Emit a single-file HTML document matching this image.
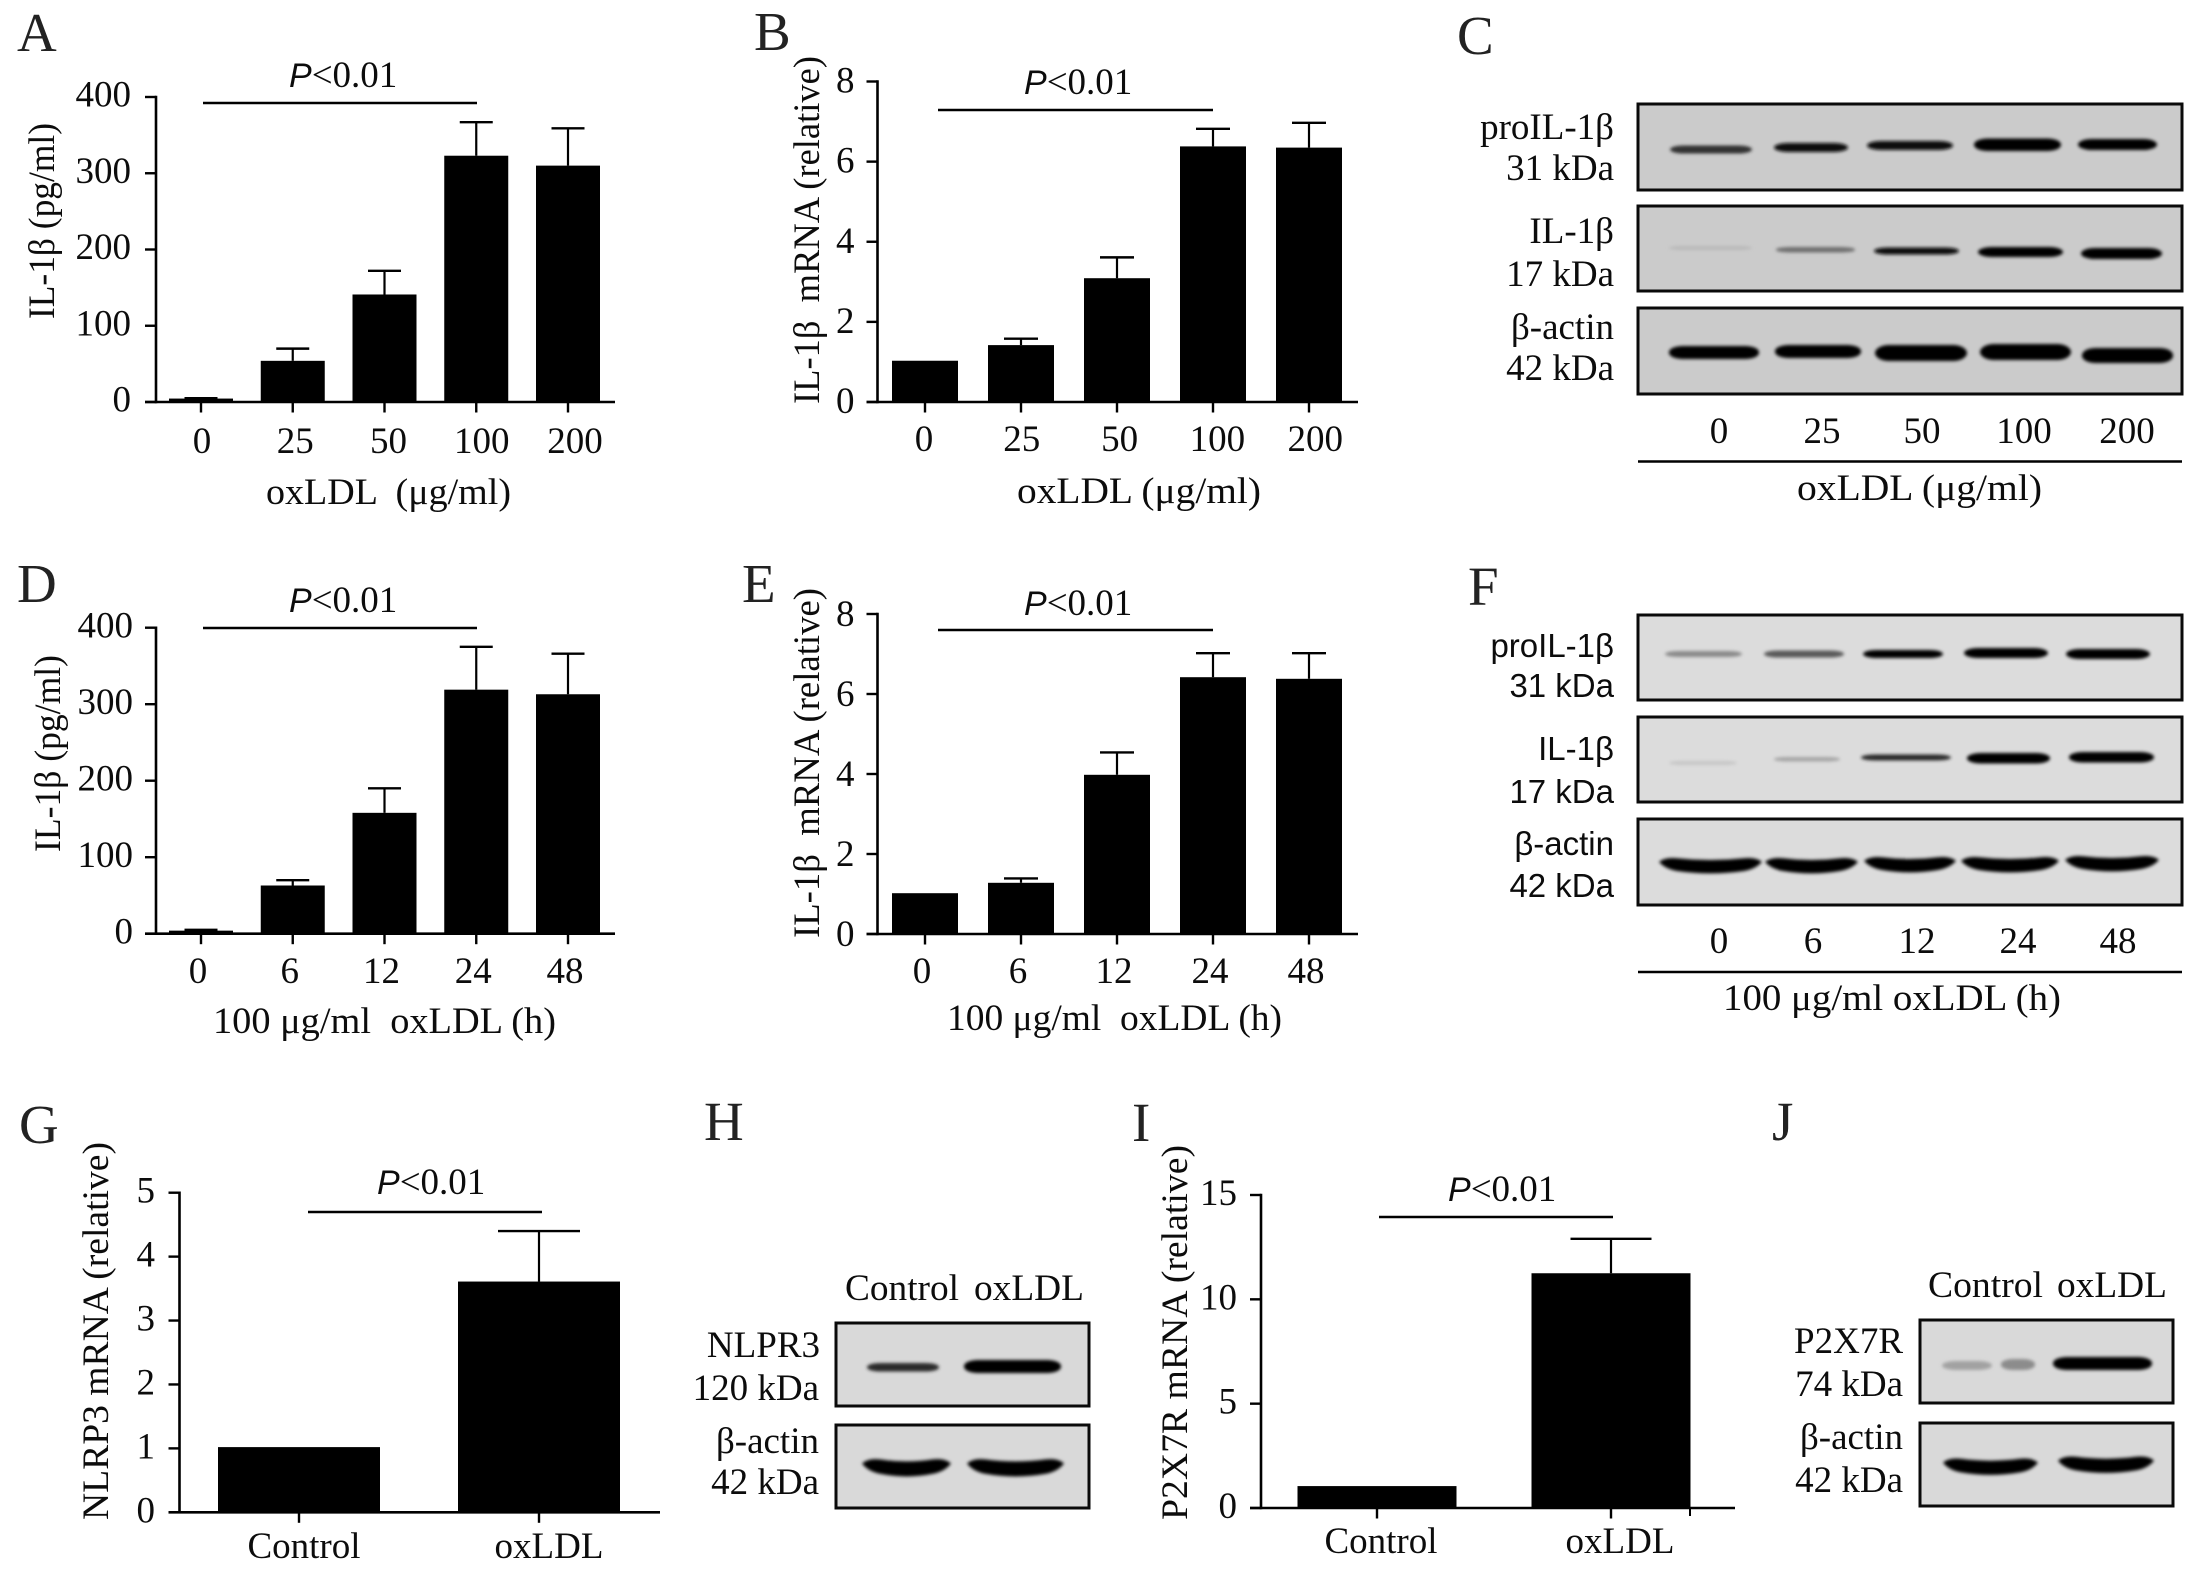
<!DOCTYPE html>
<html lang="en">
<head>
<meta charset="utf-8">
<title>oxLDL induces IL-1β, NLRP3 and P2X7R</title>
<style>
html,body{margin:0;padding:0;background:#fff;}
svg{display:block;}
text{font-family:"Liberation Serif","DejaVu Serif",serif;font-size:37px;fill:#0c0c0c;}
.letter{font-size:55px;fill:#222;}
.sans{font-family:"Liberation Sans","DejaVu Sans",sans-serif;font-size:33px;}
.pi{font-family:"Liberation Sans","DejaVu Sans",sans-serif;font-style:italic;font-size:34px;}
.blot{stroke:#0a0a0a;stroke-width:3;}
.band{filter:url(#soft);}
</style>
</head>
<body>
<svg id="figure" xmlns="http://www.w3.org/2000/svg" width="2204" height="1572" viewBox="0 0 2204 1572">
<defs><filter id="soft" x="-20%" y="-80%" width="140%" height="260%"><feGaussianBlur stdDeviation="1.7"/></filter></defs>
<rect x="0" y="0" width="2204" height="1572" fill="#fff"/>

<g>
<text class="letter" x="17" y="51">A</text>
<text class="letter" x="754" y="50">B</text>
<text class="letter" x="1457" y="54">C</text>
<text class="letter" x="17" y="602">D</text>
<text class="letter" x="742" y="602">E</text>
<text class="letter" x="1468" y="605">F</text>
<text class="letter" x="19" y="1143">G</text>
<text class="letter" x="704" y="1140">H</text>
<text class="letter" x="1132" y="1141">I</text>
<text class="letter" x="1772" y="1140">J</text>
</g>

<g id="chart-a">
<text x="54" y="319" textLength="196" lengthAdjust="spacingAndGlyphs" transform="rotate(-90 54 319)">IL-1β (pg/ml)</text>
<text x="266" y="504" textLength="245" lengthAdjust="spacingAndGlyphs" xml:space="preserve">oxLDL  (μg/ml)</text>
<text x="289" y="87"><tspan class="pi">P</tspan>&lt;0.01</text>
<line x1="203" x2="477" y1="103" y2="103" stroke="#000" stroke-width="2.6"/>
</g>

<g id="chart-b">
<text x="819" y="404" textLength="348" lengthAdjust="spacingAndGlyphs" transform="rotate(-90 819 404)" xml:space="preserve">IL-1β  mRNA (relative)</text>
<text x="1017" y="503" textLength="244" lengthAdjust="spacingAndGlyphs">oxLDL (μg/ml)</text>
<text x="1024" y="94"><tspan class="pi">P</tspan>&lt;0.01</text>
<line x1="938" x2="1213" y1="110" y2="110" stroke="#000" stroke-width="2.6"/>
</g>

<g id="chart-d">
<text x="60" y="852" textLength="197" lengthAdjust="spacingAndGlyphs" transform="rotate(-90 60 852)">IL-1β (pg/ml)</text>
<text x="213" y="1033" textLength="343" lengthAdjust="spacingAndGlyphs" xml:space="preserve">100 μg/ml  oxLDL (h)</text>
<text x="289" y="612"><tspan class="pi">P</tspan>&lt;0.01</text>
<line x1="203" x2="477" y1="628" y2="628" stroke="#000" stroke-width="2.6"/>
</g>

<g id="chart-e">
<text x="819" y="938" textLength="350" lengthAdjust="spacingAndGlyphs" transform="rotate(-90 819 938)" xml:space="preserve">IL-1β  mRNA (relative)</text>
<text x="947" y="1030" textLength="335" lengthAdjust="spacingAndGlyphs" xml:space="preserve">100 μg/ml  oxLDL (h)</text>
<text x="1024" y="615"><tspan class="pi">P</tspan>&lt;0.01</text>
<line x1="938" x2="1213" y1="630" y2="630" stroke="#000" stroke-width="2.6"/>
</g>

<g id="chart-g">
<text x="108" y="1520" textLength="378" lengthAdjust="spacingAndGlyphs" transform="rotate(-90 108 1520)">NLRP3 mRNA (relative)</text>
<text x="377" y="1194"><tspan class="pi">P</tspan>&lt;0.01</text>
<line x1="308" x2="542" y1="1212" y2="1212" stroke="#000" stroke-width="2.6"/>
</g>

<g id="chart-i">
<text x="1187" y="1520" textLength="375" lengthAdjust="spacingAndGlyphs" transform="rotate(-90 1187 1520)">P2X7R mRNA (relative)</text>
<text x="1448" y="1201"><tspan class="pi">P</tspan>&lt;0.01</text>
<line x1="1379" x2="1613" y1="1217" y2="1217" stroke="#000" stroke-width="2.6"/>
<line x1="1690" x2="1690" y1="1508" y2="1516" stroke="#000" stroke-width="2"/>
</g>

<g>
<rect class="blot" x="1638" y="104" width="544" height="86" fill="#cbcbcb"/>
<rect class="blot" x="1638" y="206" width="544" height="85" fill="#cbcbcb"/>
<rect class="blot" x="1638" y="308" width="544" height="86" fill="#cbcbcb"/>
<g>
<rect class="band" x="1670" y="145.5" width="82" height="8" rx="14" ry="4" fill="#333"/>
<rect class="band" x="1774" y="143" width="74" height="9" rx="14" ry="4.5" fill="#111"/>
<rect class="band" x="1867" y="141" width="86" height="9" rx="14" ry="4.5" fill="#0c0c0c"/>
<rect class="band" x="1974" y="138.5" width="87" height="12.5" rx="14" ry="6" fill="#000"/>
<rect class="band" x="2078" y="139" width="79" height="11" rx="14" ry="5.5" fill="#000"/>
</g>
<g>
<rect class="band" x="1669" y="246" width="83" height="4" rx="14" ry="2" fill="#b9b9b9"/>
<rect class="band" x="1776" y="247" width="79" height="5.5" rx="14" ry="2.5" fill="#6f6f6f"/>
<rect class="band" x="1874" y="247.5" width="85" height="7" rx="14" ry="3.5" fill="#0f0f0f"/>
<rect class="band" x="1978" y="247" width="85" height="10" rx="14" ry="5" fill="#000"/>
<rect class="band" x="2081" y="248" width="81" height="11" rx="14" ry="5.5" fill="#000"/>
</g>
<g>
<rect class="band" x="1669" y="346" width="90" height="13" rx="14" ry="6" fill="#000"/>
<rect class="band" x="1775" y="345" width="86" height="13" rx="14" ry="6" fill="#000"/>
<rect class="band" x="1875" y="345" width="92" height="16" rx="14" ry="8" fill="#000"/>
<rect class="band" x="1980" y="344" width="91" height="16" rx="14" ry="8" fill="#000"/>
<rect class="band" x="2082" y="348" width="91" height="15" rx="14" ry="7" fill="#000"/>
</g>
<g text-anchor="end">
<text x="1614" y="139">proIL-1β</text>
<text x="1614" y="180">31 kDa</text>
<text x="1614" y="243">IL-1β</text>
<text x="1614" y="286">17 kDa</text>
<text x="1614" y="339">β-actin</text>
<text x="1614" y="380">42 kDa</text>
</g>
<g text-anchor="middle">
<text x="1719" y="443">0</text>
<text x="1822" y="443">25</text>
<text x="1922" y="443">50</text>
<text x="2024" y="443">100</text>
<text x="2127" y="443">200</text>
</g>
<line x1="1638" x2="2182" y1="461.5" y2="461.5" stroke="#000" stroke-width="2.6"/>
<text x="1797" y="500" textLength="245" lengthAdjust="spacingAndGlyphs">oxLDL (μg/ml)</text>
</g>

<g>
<rect class="blot" x="1638" y="615" width="544" height="85" fill="#dcdcdc"/>
<rect class="blot" x="1638" y="717" width="544" height="85" fill="#dcdcdc"/>
<rect class="blot" x="1638" y="819" width="544" height="86" fill="#dcdcdc"/>
<g>
<rect class="band" x="1665" y="651" width="77" height="6" rx="14" ry="3" fill="#8a8a8a"/>
<rect class="band" x="1764" y="650.5" width="80" height="7" rx="14" ry="3.5" fill="#5a5a5a"/>
<rect class="band" x="1863" y="650" width="80" height="8" rx="14" ry="4" fill="#060606"/>
<rect class="band" x="1964" y="648" width="84" height="10" rx="14" ry="5" fill="#000"/>
<rect class="band" x="2066" y="649" width="84" height="10" rx="14" ry="5" fill="#000"/>
</g>
<g>
<rect class="band" x="1669" y="761" width="68" height="4" rx="14" ry="2" fill="#c6c6c6"/>
<rect class="band" x="1774" y="757" width="66" height="4.5" rx="14" ry="2" fill="#a6a6a6"/>
<rect class="band" x="1861" y="754.5" width="90" height="6" rx="14" ry="3" fill="#2a2a2a"/>
<rect class="band" x="1967" y="753" width="83" height="10.5" rx="14" ry="5" fill="#000"/>
<rect class="band" x="2069" y="752" width="85" height="10.5" rx="14" ry="5" fill="#000"/>
</g>
<g id="bands-f-actin"></g>
<g text-anchor="end">
<text class="sans" x="1614" y="657">proIL-1β</text>
<text class="sans" x="1614" y="697">31 kDa</text>
<text class="sans" x="1614" y="760">IL-1β</text>
<text class="sans" x="1614" y="803">17 kDa</text>
<text class="sans" x="1614" y="855">β-actin</text>
<text class="sans" x="1614" y="897">42 kDa</text>
</g>
<g text-anchor="middle">
<text x="1719" y="953">0</text>
<text x="1813" y="953">6</text>
<text x="1917" y="953">12</text>
<text x="2018" y="953">24</text>
<text x="2118" y="953">48</text>
</g>
<line x1="1638" x2="2182" y1="972" y2="972" stroke="#000" stroke-width="2.6"/>
<text x="1723" y="1010" textLength="338" lengthAdjust="spacingAndGlyphs">100 μg/ml oxLDL (h)</text>
</g>

<g>
<rect class="blot" x="836" y="1323" width="253" height="83" fill="#d9d9d9"/>
<rect class="blot" x="836" y="1425" width="253" height="83" fill="#d9d9d9"/>
<rect class="band" x="867" y="1363" width="72" height="8.5" rx="14" ry="4" fill="#2b2b2b"/>
<rect class="band" x="964" y="1360" width="97" height="13" rx="14" ry="6" fill="#000"/>
<g id="bands-h-actin"></g>
<text x="845" y="1300" textLength="114" lengthAdjust="spacingAndGlyphs">Control</text>
<text x="974" y="1300" textLength="110" lengthAdjust="spacingAndGlyphs">oxLDL</text>
<g text-anchor="end">
<text x="820" y="1357">NLPR3</text>
<text x="819" y="1400">120 kDa</text>
<text x="819" y="1453">β-actin</text>
<text x="819" y="1494">42 kDa</text>
</g>
</g>

<g>
<rect class="blot" x="1920" y="1320" width="253" height="83" fill="#d9d9d9"/>
<rect class="blot" x="1920" y="1423" width="253" height="83" fill="#d9d9d9"/>
<rect class="band" x="1942" y="1361" width="50" height="9" rx="14" ry="4.5" fill="#a2a2a2"/>
<rect class="band" x="2001" y="1359" width="34" height="11" rx="12" ry="5" fill="#8c8c8c"/>
<rect class="band" x="2053" y="1357" width="99" height="13" rx="14" ry="6" fill="#000"/>
<g id="bands-j-actin"></g>
<text x="1928" y="1297" textLength="115" lengthAdjust="spacingAndGlyphs">Control</text>
<text x="2057" y="1297" textLength="110" lengthAdjust="spacingAndGlyphs">oxLDL</text>
<g text-anchor="end">
<text x="1903" y="1353">P2X7R</text>
<text x="1903" y="1396">74 kDa</text>
<text x="1903" y="1449">β-actin</text>
<text x="1903" y="1492">42 kDa</text>
</g>
</g>
</svg>

<script>
// Panel A
const aCategories = ['0', '25', '50', '100', '200'];
const aValues = [4.5, 54, 141, 323, 310];
const aErrorTops = [5, 70, 172, 367, 359];
const aYTicks = [0, 100, 200, 300, 400];
// Panel B
const bCategories = ['0', '25', '50', '100', '200'];
const bValues = [1.03, 1.42, 3.09, 6.38, 6.35];
const bErrorTops = [1.03, 1.58, 3.61, 6.82, 6.97];
const bYTicks = [0, 2, 4, 6, 8];
// Panel D
const dCategories = ['0', '6', '12', '24', '48'];
const dValues = [4, 63, 158, 319, 313];
const dErrorTops = [5, 70, 190, 375, 366];
const dYTicks = [0, 100, 200, 300, 400];
// Panel E
const eCategories = ['0', '6', '12', '24', '48'];
const eValues = [1.02, 1.28, 3.98, 6.42, 6.38];
const eErrorTops = [1.02, 1.39, 4.54, 7.02, 7.02];
const eYTicks = [0, 2, 4, 6, 8];
// Panel G
const gCategories = ['Control', 'oxLDL'];
const gValues = [1.02, 3.61];
const gErrorTops = [1.02, 4.4];
const gYTicks = [0, 1, 2, 3, 4, 5];
// Panel I
const iCategories = ['Control', 'oxLDL'];
const iValues = [1.05, 11.25];
const iErrorTops = [1.05, 12.9];
const iYTicks = [0, 5, 10, 15];

const SVG_NS = 'http://www.w3.org/2000/svg';

function make(tag, parent, attrs, txt) {
  const node = document.createElementNS(SVG_NS, tag);
  Object.keys(attrs).forEach(function (k) { node.setAttribute(k, attrs[k]); });
  if (txt !== undefined) node.textContent = txt;
  parent.appendChild(node);
  return node;
}

function drawChart(id, cfg, categories, values, errorTops, yTicks) {
  const root = document.getElementById(id);
  const maxTick = yTicks[yTicks.length - 1];
  const yOf = function (v) { return cfg.y0 + (cfg.yTop - cfg.y0) * v / maxTick; };
  const xOf = function (i) { return cfg.x0 + cfg.step * i; };

  values.forEach(function (v, i) {
    const bar = make('rect', root, { x: xOf(i) - cfg.barW / 2, y: yOf(v), width: cfg.barW, height: cfg.y0 - yOf(v), fill: '#000' });
    
    
    if (errorTops[i] > v) {
      const stem = make('line', root, { x1: xOf(i), x2: xOf(i), y1: yOf(v), y2: yOf(errorTops[i]), stroke: '#000', 'stroke-width': 2.2 });
      
      
      const cap = make('line', root, { x1: xOf(i) - cfg.capW / 2, x2: xOf(i) + cfg.capW / 2, y1: yOf(errorTops[i]), y2: yOf(errorTops[i]), stroke: '#000', 'stroke-width': 2.4 });
      
      
    }
    const tick = make('line', root, { x1: xOf(i), x2: xOf(i), y1: cfg.y0, y2: cfg.y0 + 10.5, stroke: '#000', 'stroke-width': 2.4 });
    
    
    const label = make('text', root, { x: xOf(i) + cfg.labelDx + cfg.labelSlope * i, y: cfg.labelY, 'text-anchor': 'middle' }, categories[i]);
    
    
  });

  yTicks.forEach(function (t) {
    const tick = make('line', root, { x1: cfg.axisX - 11, x2: cfg.axisX, y1: yOf(t), y2: yOf(t), stroke: '#000', 'stroke-width': 2.4 });
    
    
    const label = make('text', root, { x: cfg.yLabelX, y: yOf(t) + cfg.yLabelDy, 'text-anchor': 'end' }, String(t));
    
    
  });

  const yAxis = make('line', root, { x1: cfg.axisX, x2: cfg.axisX, y1: cfg.yTop - 1.2, y2: cfg.y0 + 1.2, stroke: '#000', 'stroke-width': 2.6 });
  
  
  const xAxis = make('line', root, { x1: cfg.axisX - 11, x2: cfg.axisEnd, y1: cfg.y0, y2: cfg.y0, stroke: '#000', 'stroke-width': 2.6 });
  
  
}

// Curved "smile" protein band used for the loading-control blots.
function smileBand(groupId, x0, x1, yc, half) {
  const mid = (x0 + x1) / 2;
  const d = 'M' + x0 + ' ' + (yc - half * 0.4) +
    ' Q' + (x0 + 6) + ' ' + (yc - half) + ' ' + (x0 + 18) + ' ' + (yc - half * 0.85) +
    ' Q' + mid + ' ' + (yc - half * 0.4) + ' ' + (x1 - 18) + ' ' + (yc - half * 0.85) +
    ' Q' + (x1 - 6) + ' ' + (yc - half) + ' ' + x1 + ' ' + (yc - half * 0.4) +
    ' Q' + (x1 - 6) + ' ' + (yc + half * 0.5) + ' ' + (x1 - 18) + ' ' + (yc + half * 0.75) +
    ' Q' + mid + ' ' + (yc + half * 1.35) + ' ' + (x0 + 18) + ' ' + (yc + half * 0.75) +
    ' Q' + (x0 + 6) + ' ' + (yc + half * 0.5) + ' ' + x0 + ' ' + (yc - half * 0.4) + ' Z';
  const band = make('path', document.getElementById(groupId), { d: d, fill: '#000', class: 'band' });
  
  
}

drawChart('chart-a', { axisX: 156, axisEnd: 615, y0: 402, yTop: 97, x0: 201, step: 91.75, barW: 64, capW: 33, labelDx: 1, labelSlope: 1.5, labelY: 453, yLabelX: 131, yLabelDy: 9.5 }, aCategories, aValues, aErrorTops, aYTicks);
drawChart('chart-b', { axisX: 877.5, axisEnd: 1358, y0: 402, yTop: 81.5, x0: 925, step: 96, barW: 66, capW: 34, labelDx: -1, labelSlope: 1.8, labelY: 451, yLabelX: 854.5, yLabelDy: 11 }, bCategories, bValues, bErrorTops, bYTicks);
drawChart('chart-d', { axisX: 156, axisEnd: 615, y0: 933.7, yTop: 627.7, x0: 201, step: 91.75, barW: 64, capW: 33, labelDx: -3, labelSlope: 0, labelY: 983, yLabelX: 133, yLabelDy: 10 }, dCategories, dValues, dErrorTops, dYTicks);
drawChart('chart-e', { axisX: 877.5, axisEnd: 1358, y0: 934, yTop: 614, x0: 925, step: 96, barW: 66, capW: 34, labelDx: -3, labelSlope: 0, labelY: 983, yLabelX: 854.5, yLabelDy: 12 }, eCategories, eValues, eErrorTops, eYTicks);
drawChart('chart-g', { axisX: 179.5, axisEnd: 660, y0: 1512.3, yTop: 1192.7, x0: 299, step: 240, barW: 162, capW: 82, labelDx: 5, labelSlope: 5, labelY: 1558, yLabelX: 155, yLabelDy: 10 }, gCategories, gValues, gErrorTops, gYTicks);
drawChart('chart-i', { axisX: 1261, axisEnd: 1735, y0: 1508, yTop: 1195, x0: 1377, step: 234, barW: 159, capW: 81, labelDx: 4, labelSlope: 5, labelY: 1553, yLabelX: 1237, yLabelDy: 10 }, iCategories, iValues, iErrorTops, iYTicks);

smileBand('bands-f-actin', 1659, 1762, 865, 8);
smileBand('bands-f-actin', 1765, 1858, 865, 8);
smileBand('bands-f-actin', 1864, 1956, 864, 8);
smileBand('bands-f-actin', 1961, 2059, 864, 8);
smileBand('bands-f-actin', 2065, 2159, 863, 8);
smileBand('bands-h-actin', 862, 951, 1467, 9);
smileBand('bands-h-actin', 967, 1064, 1467, 9);
smileBand('bands-j-actin', 1943, 2038, 1466, 8.5);
smileBand('bands-j-actin', 2058, 2154, 1464, 8.5);
</script>
</body>
</html>
